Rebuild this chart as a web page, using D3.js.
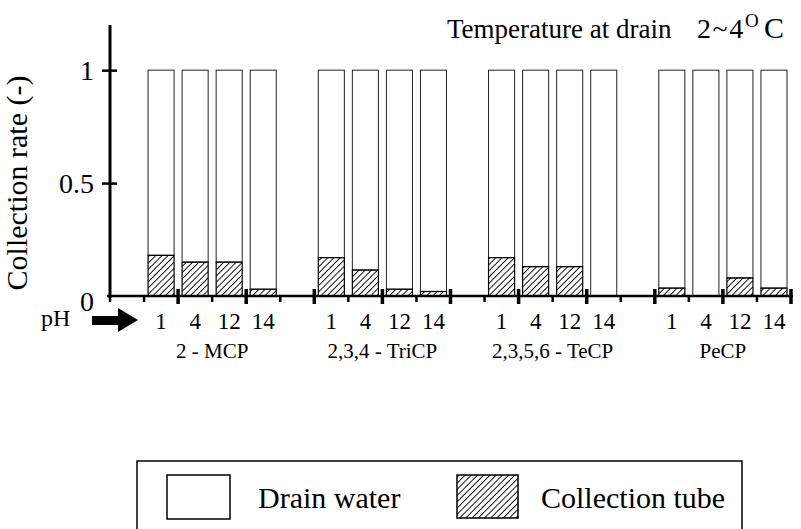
<!DOCTYPE html>
<html>
<head>
<meta charset="utf-8">
<script src="https://cdn.jsdelivr.net/npm/d3@7/dist/d3.min.js"></script>
<style>
  body { margin: 0; background: #fff; }
  svg { display: block; font-family: "Liberation Serif", "Times New Roman", serif; }
</style>
</head>
<body>
<svg id="chart" width="801" height="529"></svg>
<script>
// Collection rate by compound and pH, temperature at drain 2~4 C
const compounds = ["2 - MCP", "2,3,4 - TriCP", "2,3,5,6 - TeCP", "PeCP"];
const phLevels = ["1", "4", "12", "14"];
// collection tube share (hatched) per compound, per pH
const collectionTube = [
  [0.18, 0.15, 0.15, 0.03],
  [0.17, 0.115, 0.03, 0.02],
  [0.17, 0.13, 0.13, 0.0],
  [0.035, 0.0, 0.08, 0.035]
];
// drain water share (open) stacked on top
const drainWater = [
  [0.82, 0.85, 0.85, 0.97],
  [0.83, 0.885, 0.97, 0.98],
  [0.83, 0.87, 0.87, 1.0],
  [0.965, 1.0, 0.92, 0.965]
];
const yTicks = [0, 0.5, 1];

(function() {
  const svg = d3.select("#chart");

  // slot scale: 20 slots, 4 per compound plus one gap slot
  const x = d3.scaleLinear().domain([0, 20]).range([110, 791]);
  const y = d3.scaleLinear().domain([0, 1.2]).range([296, 25]);

  const defs = svg.append("defs");
  defs.append("pattern")
    .attr("id", "hatch")
    .attr("patternUnits", "userSpaceOnUse")
    .attr("width", 4.4).attr("height", 4.4)
    .attr("patternTransform", "rotate(45)")
    .append("line")
      .attr("x1", 0).attr("y1", 0).attr("x2", 0).attr("y2", 4.4)
      .attr("stroke", "#000").attr("stroke-width", 1.8);

  const bars = [];
  compounds.forEach((c, g) => {
    phLevels.forEach((p, j) => {
      bars.push({slot: 1 + g * 5 + j, ph: p, tube: collectionTube[g][j], drain: drainWater[g][j]});
    });
  });

  const pad = 4;
  // drain water (open)
  svg.append("g").selectAll("rect")
    .data(bars)
    .join("rect")
      .attr("x", d => x(d.slot) + pad)
      .attr("width", d => x(d.slot + 1) - x(d.slot) - 2 * pad)
      .attr("y", d => y(d.tube + d.drain))
      .attr("height", d => y(d.tube) - y(d.tube + d.drain))
      .attr("fill", "#fff")
      .attr("stroke", "#222")
      .attr("stroke-width", 1);

  // collection tube (hatched)
  svg.append("g").selectAll("rect")
    .data(bars.filter(d => d.tube > 0))
    .join("rect")
      .attr("x", d => x(d.slot) + pad)
      .attr("width", d => x(d.slot + 1) - x(d.slot) - 2 * pad)
      .attr("y", d => y(d.tube))
      .attr("height", d => y(0) - y(d.tube))
      .attr("fill", "url(#hatch)")
      .attr("stroke", "#000")
      .attr("stroke-width", 1.2);

  // y axis
  const yAxis = svg.append("g")
    .attr("transform", `translate(${x(0)},0)`)
    .call(d3.axisLeft(y).tickValues(yTicks).tickFormat(d => d === 0 ? "0" : d === 1 ? "1" : "0.5")
      .tickSize(8).tickPadding(8));
  yAxis.select(".domain").remove();
  yAxis.selectAll(".tick line").attr("x2", 7).attr("x1", -8).attr("stroke", "#000").attr("stroke-width", 2.5)
    .filter(d => d === 0).remove();
  yAxis.selectAll(".tick text")
    .attr("font-family", "Liberation Serif")
    .attr("font-size", 28)
    .attr("fill", "#000")
    .attr("dy", d => d === 0 ? "0.5em" : "0.32em");
  svg.append("line")
    .attr("x1", x(0)).attr("x2", x(0))
    .attr("y1", y(1.2)).attr("y2", y(0) + 2)
    .attr("stroke", "#000").attr("stroke-width", 3);

  // x axis with alternating short / long ticks
  svg.append("line")
    .attr("x1", x(0) - 3).attr("x2", x(20) + 2)
    .attr("y1", y(0)).attr("y2", y(0))
    .attr("stroke", "#000").attr("stroke-width", 2.5);
  svg.append("g").selectAll("line")
    .data(d3.range(0, 21))
    .join("line")
      .attr("x1", d => x(d)).attr("x2", d => x(d))
      .attr("y1", d => (d % 2 === 0 && d > 0) ? y(0) - 7 : y(0))
      .attr("y2", d => (d % 2 === 0 && d > 0) ? y(0) + 8 : y(0) + 6)
      .attr("stroke", "#000")
      .attr("stroke-width", d => (d % 2 === 0 && d > 0) ? 3.5 : 2.5);

  // pH labels under bars
  svg.append("g").selectAll("text")
    .data(bars)
    .join("text")
      .attr("x", d => (x(d.slot) + x(d.slot + 1)) / 2)
      .attr("y", 329)
      .attr("text-anchor", "middle")
      .attr("font-size", 23)
      .text(d => d.ph);

  // compound labels
  svg.append("g").selectAll("text")
    .data(compounds)
    .join("text")
      .attr("x", (d, g) => (x(1 + g * 5) + x(5 + g * 5)) / 2)
      .attr("y", 358)
      .attr("text-anchor", "middle")
      .attr("font-size", 21)
      .text(d => d);

  // pH marker and arrow
  svg.append("text")
    .attr("x", 41).attr("y", 326)
    .attr("font-size", 24)
    .text("pH");
  svg.append("path")
    .attr("d", "M92,316 L118,316 L118,308 L138,320 L118,332 L118,325 L92,325 Z")
    .attr("fill", "#000");

  // y label
  svg.append("text")
    .attr("transform", "translate(27,183) rotate(-90)")
    .attr("text-anchor", "middle")
    .attr("font-size", 30)
    .text("Collection rate (-)");

  // title
  const title = svg.append("text")
    .attr("x", 447).attr("y", 38)
    .attr("font-size", 27);
  title.append("tspan").text("Temperature at drain");
  title.append("tspan").attr("x", 697).attr("font-size", 28).attr("letter-spacing", 1.5).text("2~4");
  title.append("tspan").attr("x", 745).attr("dy", -11).attr("font-size", 19).text("O");
  title.append("tspan").attr("x", 764).attr("dy", 11).attr("font-size", 30).text("C");

  // legend
  const lg = svg.append("g");
  lg.append("rect")
    .attr("x", 137).attr("y", 461).attr("width", 605).attr("height", 90)
    .attr("fill", "none").attr("stroke", "#000").attr("stroke-width", 1.5);
  lg.append("rect")
    .attr("x", 167).attr("y", 475).attr("width", 63).attr("height", 44)
    .attr("fill", "#fff").attr("stroke", "#000").attr("stroke-width", 1.5);
  lg.append("text").attr("x", 258).attr("y", 508).attr("font-size", 30).text("Drain water");
  lg.append("rect")
    .attr("x", 457).attr("y", 475).attr("width", 61).attr("height", 43)
    .attr("fill", "url(#hatch)").attr("stroke", "#000").attr("stroke-width", 1.5);
  lg.append("text").attr("x", 541).attr("y", 508).attr("font-size", 30).text("Collection tube");
})();
</script>
</body>
</html>
